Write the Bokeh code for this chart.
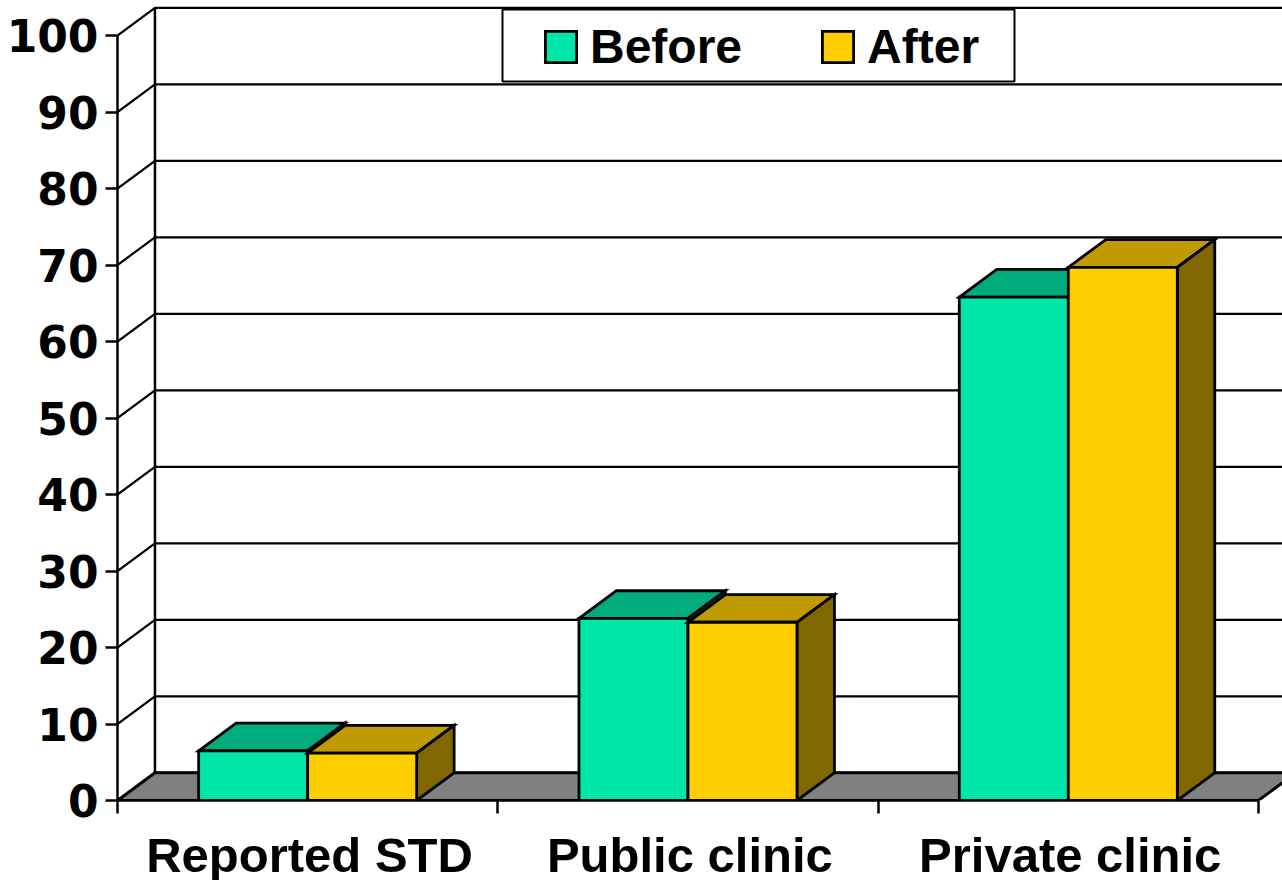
from bokeh.plotting import figure
from bokeh.models import (Range1d, LinearAxis, FixedTicker, Legend, LegendItem, BoxAnnotation)
from bokeh.core.properties import value
from bokeh.embed import file_html
from bokeh.resources import INLINE

categories = ["Reported STD", "Public clinic", "Private clinic"]
before = [6.5, 23.8, 65.8]
after = [6.2, 23.3, 69.7]
y_ticks = [0, 10, 20, 30, 40, 50, 60, 70, 80, 90, 100]

C_BEFORE, C_BEFORE_TOP, C_BEFORE_SIDE = "#00E6A8", "#00AC7E", "#007354"
C_AFTER, C_AFTER_TOP, C_AFTER_SIDE = "#FFCE00", "#BF9A00", "#806700"
BAR_W = 0.2866
DX = 0.0985
DY = 3.62
X_END = 3.0632
Y_END = 800 / 7.65
LW = 2.8

p = figure(width=1282, height=880, output_backend="svg", toolbar_location=None,
           x_range=Range1d(0, X_END), y_range=Range1d(0, Y_END),
           x_axis_type=None, y_axis_type=None,
           min_border_left=117, min_border_right=0, min_border_top=0, min_border_bottom=80,
           frame_width=1165, frame_height=800)
p.grid.visible = False
p.outline_line_color = None
p.background_fill_color = "white"
p.border_fill_color = "white"

n = len(categories)
# floor
p.patch([0, DX, n + DX, n], [0, DY, DY, 0], fill_color="#808080", line_color="black", line_width=3)
# back wall and side wall
xs = []
ys = []
for t in y_ticks:
    xs.append([0, DX, X_END + 1])
    ys.append([t, t + DY, t + DY])
p.multi_line(xs, ys, line_color="black", line_width=2.2)
p.line([DX, DX], [DY, 100 + DY], line_color="black", line_width=2.5)

def bar(x0, x1, v, c_front, c_top, c_side):
    p.patch([x0, x1, x1 + DX, x0 + DX], [v, v, v + DY, v + DY],
            fill_color=c_top, line_color="black", line_width=LW, line_join="miter")
    p.patch([x1, x1 + DX, x1 + DX, x1], [0, DY, v + DY, v],
            fill_color=c_side, line_color="black", line_width=LW, line_join="miter")
    return p.quad(left=[x0], right=[x1], bottom=[0], top=[v],
                  fill_color=c_front, line_color="black", line_width=LW, line_join="miter")

r_before = r_after = None
for i in range(n):
    c = i + 0.5
    r_before = bar(c - BAR_W, c, before[i], C_BEFORE, C_BEFORE_TOP, C_BEFORE_SIDE)
    r_after = bar(c, c + BAR_W, after[i], C_AFTER, C_AFTER_TOP, C_AFTER_SIDE)

# axes
yax = LinearAxis(ticker=FixedTicker(ticks=y_ticks), bounds=(0, 100))
yax.axis_line_color = "black"
yax.axis_line_width = 2.5
yax.major_tick_line_width = 2.5
yax.major_tick_line_color = "black"
yax.major_tick_out = 12
yax.major_tick_in = 0
yax.minor_tick_out = 0
yax.minor_tick_in = 0
yax.major_label_standoff = 7
yax.major_label_text_font = "DejaVu Sans"
yax.major_label_text_font_style = "bold"
yax.major_label_text_font_size = "44px"
yax.major_label_text_color = "black"
p.add_layout(yax, "left")

centers = [i + 0.505 for i in range(n)]
xax = LinearAxis(ticker=FixedTicker(ticks=centers, minor_ticks=list(range(n + 1))), bounds=(0, n))
xax.major_label_overrides = {c: categories[i] for i, c in enumerate(centers)}
xax.axis_line_color = "black"
xax.axis_line_width = 2.5
xax.major_tick_out = 0
xax.major_tick_in = 0
xax.minor_tick_out = 13
xax.minor_tick_in = 0
xax.minor_tick_line_width = 2.5
xax.minor_tick_line_color = "black"
xax.major_label_standoff = 14
xax.major_label_text_font = "Liberation Sans"
xax.major_label_text_font_style = "bold"
xax.major_label_text_font_size = "49px"
xax.major_label_text_color = "black"
p.add_layout(xax, "below")

# legend frame
box = BoxAnnotation(left=502, right=1014, top=9, bottom=81,
                    left_units="canvas", right_units="canvas", top_units="canvas", bottom_units="canvas",
                    fill_color="white", fill_alpha=1, line_color="black", line_alpha=1, line_width=2)
p.add_layout(box)

legend = Legend(items=[LegendItem(label=value("Before"), renderers=[r_before]),
                       LegendItem(label=value("After"), renderers=[r_after])],
                orientation="horizontal", location=(414, 716), margin=0, padding=10,
                spacing=76, glyph_width=39, glyph_height=39, label_standoff=10,
                label_text_font="Liberation Sans", label_text_font_style="bold",
                label_text_font_size="48px", label_text_color="black",
                background_fill_alpha=0, border_line_alpha=0)
p.add_layout(legend, "center")

open("out.html", "w").write(file_html(p, INLINE))
